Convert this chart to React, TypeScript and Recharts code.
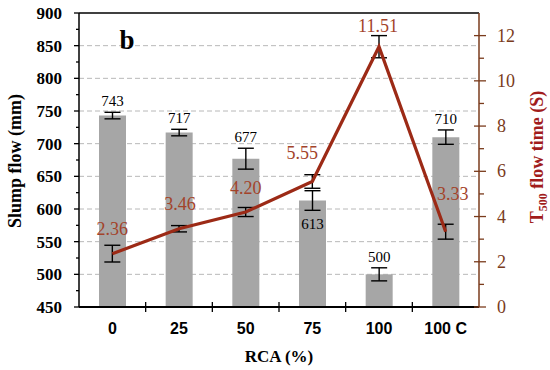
import {
    ComposedChart, Bar, Line, XAxis, YAxis, CartesianGrid,
    ErrorBar, LabelList, ReferenceLine,
} from 'recharts';

// RCA replacement level (x categories)
const RCA = ['0', '25', '50', '75', '100', '100 C'];
// Slump flow (mm), bars on left axis
const SLUMP = [743, 717, 677, 613, 500, 710];
const SLUMP_ERR = [5, 5, 16, 15, 10, 11];
// T500 flow time (s), line on right axis
const T500 = [2.36, 3.46, 4.2, 5.55, 11.51, 3.33];
const T500_ERR = [0.37, 0.14, 0.2, 0.3, 0.49, 0.33];

const LEFT_TICKS = [450, 475, 500, 525, 550, 575, 600, 625, 650, 675, 700, 725, 750, 775, 800, 825, 850, 875, 900];
const RIGHT_TICKS = [0, 1, 2, 3, 4, 5, 6, 7, 8, 9, 10, 11, 12];
const GRID_VALUES = [500, 550, 600, 650, 700, 750, 800, 850];

// layout
const W = 550;
const H = 370;
const LEFT_X = 79;
const RIGHT_X = 479;
const TOP_Y = 13;
const AXIS_Y = 307;
const BAND = (RIGHT_X - LEFT_X) / RCA.length;
const PX_PER_MM = (AXIS_Y - TOP_Y) / 450;
const BAR_LABEL_BELOW = [false, false, false, true, false, false];
const LINE_LABEL_OFFSETS: Array<[number, number]> = [[0, -25], [1, -25], [0, -24], [-10, -28], [-1, -21], [7, -38]];

const SERIF = '"Liberation Serif", "Times New Roman", serif';
const SANS = '"Liberation Sans", Arial, sans-serif';
const BROWN = '#7a3b1c';
const LINE_RED = '#9c2a16';
const LABEL_RED = '#a3432a';

const data = RCA.map((rca, i) => ({
    rca,
    slump: SLUMP[i],
    slumpErr: SLUMP_ERR[i],
    t500: T500[i],
    t500Err: T500_ERR[i],
}));

function LeftTick({ y, payload }: any) {
    const v = payload.value as number;
    const major = v % 50 === 0;
    return (
        <g>
            <line x1={LEFT_X - (major ? 5 : 3)} x2={LEFT_X} y1={y} y2={y} stroke="#000" strokeWidth={1.3} />
            {major && (
                <text x={LEFT_X - 17} y={y} dy={6} textAnchor="end" fontFamily={SERIF} fontWeight="bold" fontSize={17} fill="#000">
                    {v}
                </text>
            )}
        </g>
    );
}

function RightTick({ y, payload }: any) {
    const v = payload.value as number;
    const major = v % 2 === 0;
    return (
        <g>
            <line x1={major ? RIGHT_X - 5 : RIGHT_X} x2={RIGHT_X + (major ? 7 : 5)} y1={y} y2={y} stroke={BROWN} strokeWidth={1.3} />
            {major && (
                <text x={RIGHT_X + 18} y={y} dy={6} textAnchor="start" fontFamily={SERIF} fontSize={18} fill={BROWN}>
                    {v}
                </text>
            )}
        </g>
    );
}

function BottomTick({ x, payload, index }: any) {
    return (
        <g>
            {index < RCA.length - 1 && (
                <line x1={x + BAND / 2} x2={x + BAND / 2} y1={AXIS_Y - 5} y2={AXIS_Y + 5} stroke="#000" strokeWidth={1.3} />
            )}
            <text x={x} y={AXIS_Y + 27} textAnchor="middle" fontFamily={SANS} fontWeight="bold" fontSize={16} fill="#000">
                {payload.value}
            </text>
        </g>
    );
}

function BarValueLabel({ x, y, width, value, index }: any) {
    const err = SLUMP_ERR[index] * PX_PER_MM;
    const cx = x + width / 2;
    const ty = BAR_LABEL_BELOW[index] ? y + err + 19 : y - err - 6;
    return (
        <text x={cx} y={ty} textAnchor="middle" fontFamily={SERIF} fontSize={15} fill="#000">
            {value}
        </text>
    );
}

function LineValueLabel({ x, y, value, index }: any) {
    const [dx, dy] = LINE_LABEL_OFFSETS[index];
    return (
        <text x={x + dx} y={y + dy + 6} textAnchor="middle" fontFamily={SERIF} fontSize={18} fill={LABEL_RED}>
            {Number(value).toFixed(2)}
        </text>
    );
}

function LeftTitle() {
    const cx = 15;
    const cy = 161;
    return (
        <g>
            <text x={cx} y={cy} transform={`rotate(-90, ${cx}, ${cy})`} dy={6} textAnchor="middle"
                fontFamily={SERIF} fontWeight="bold" fontSize={18} fill="#000">
                Slump flow (mm)
            </text>
            <text x={127} y={49} textAnchor="middle" fontFamily={SERIF} fontWeight="bold" fontSize={27} fill="#000">b</text>
        </g>
    );
}

function RightTitle() {
    const cx = 537;
    const cy = 157;
    return (
        <text x={cx} y={cy} transform={`rotate(-90, ${cx}, ${cy})`} dy={6} textAnchor="middle"
            fontFamily={SERIF} fontWeight="bold" fontSize={18} fill="#a11c1c">
            T<tspan fontSize={12} dy={4}>500</tspan><tspan dy={-4}> flow time (S)</tspan>
        </text>
    );
}

function BottomTitle() {
    return (
        <text x={279} y={362} textAnchor="middle" fontFamily={SERIF} fontWeight="bold" fontSize={17} fill="#000">
            RCA (%)
        </text>
    );
}

export default function App() {
    return (
        <div style={{ position: 'absolute', left: 0, top: 0, width: W, height: H, background: '#fff' }}>
            <ComposedChart width={W} height={H} data={data} margin={{ top: TOP_Y, right: 0, bottom: 0, left: 0 }}>
                <CartesianGrid yAxisId="left" vertical={false} horizontalValues={GRID_VALUES}
                    stroke="#b8b8b8" strokeDasharray="5 3" />
                <XAxis dataKey="rca" height={H - AXIS_Y} tick={<BottomTick />} tickLine={false} interval={0}
                    axisLine={{ stroke: '#000', strokeWidth: 2 }} label={<BottomTitle />} />
                <YAxis yAxisId="left" orientation="left" width={LEFT_X} domain={[450, 900]} ticks={LEFT_TICKS}
                    interval={0} tick={<LeftTick />} tickLine={false}
                    axisLine={{ stroke: '#000', strokeWidth: 1.5 }} label={<LeftTitle />} />
                <YAxis yAxisId="right" orientation="right" width={W - RIGHT_X} domain={[0, 13]} ticks={RIGHT_TICKS}
                    interval={0} tick={<RightTick />} tickLine={false}
                    axisLine={{ stroke: BROWN, strokeWidth: 1.5 }} label={<RightTitle />} />
                <ReferenceLine yAxisId="left" y={900} stroke="#000" strokeWidth={1.5} />
                <Bar yAxisId="left" dataKey="slump" fill="#a6a6a6" barSize={27} isAnimationActive={false}>
                    <ErrorBar dataKey="slumpErr" width={8} stroke="#000" strokeWidth={1.4} direction="y" />
                    <LabelList dataKey="slump" content={<BarValueLabel />} />
                </Bar>
                <Line yAxisId="right" dataKey="t500" stroke={LINE_RED} strokeWidth={3.2} dot={false}
                    activeDot={false} isAnimationActive={false}>
                    <ErrorBar dataKey="t500Err" width={8} stroke="#000" strokeWidth={1.4} direction="y" />
                    <LabelList dataKey="t500" content={<LineValueLabel />} />
                </Line>
            </ComposedChart>
        </div>
    );
}
